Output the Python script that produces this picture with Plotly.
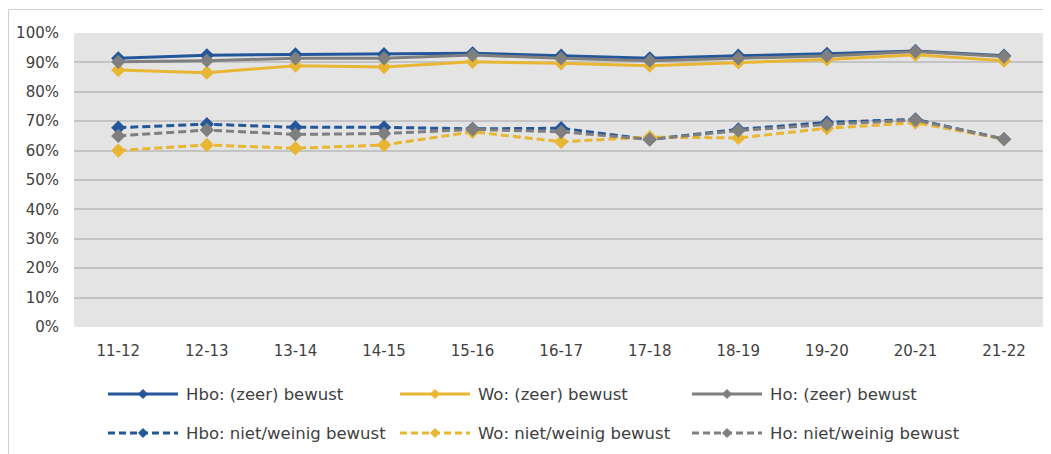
import plotly.graph_objects as go

categories = ["11-12", "12-13", "13-14", "14-15", "15-16", "16-17", "17-18", "18-19", "19-20", "20-21", "21-22"]

hbo_zeer = [91.4, 92.4, 92.7, 92.8, 93.1, 92.3, 91.4, 92.3, 92.9, 93.9, 92.3]
wo_zeer = [87.4, 86.5, 88.9, 88.4, 90.2, 89.7, 88.9, 90.0, 91.0, 92.6, 90.6]
ho_zeer = [90.2, 90.6, 91.4, 91.4, 92.5, 91.4, 90.6, 91.4, 92.2, 93.7, 92.0]
hbo_niet = [67.8, 69.0, 67.9, 67.9, 67.4, 67.6, 63.8, 67.2, 69.6, 70.6, 63.9]
wo_niet = [60.0, 61.9, 60.8, 61.9, 66.4, 63.0, 64.6, 64.3, 67.6, 69.5, 63.9]
ho_niet = [65.0, 67.0, 65.5, 65.8, 67.2, 66.4, 63.8, 66.8, 68.9, 70.4, 63.9]

names = ["Hbo: (zeer) bewust", "Wo: (zeer) bewust", "Ho: (zeer) bewust",
         "Hbo: niet/weinig bewust", "Wo: niet/weinig bewust", "Ho: niet/weinig bewust"]

BLUE = "#24569A"
GOLD = "#E9B634"
GRAY = "#7F7F7F"
DASH = "8px,4px"

series = [
    (hbo_zeer, names[0], BLUE, "solid"),
    (wo_zeer, names[1], GOLD, "solid"),
    (ho_zeer, names[2], GRAY, "solid"),
    (hbo_niet, names[3], BLUE, DASH),
    (wo_niet, names[4], GOLD, DASH),
    (ho_niet, names[5], GRAY, DASH),
]

fig = go.Figure()
for vals, name, color, dash in series:
    fig.add_trace(go.Scatter(
        x=categories, y=[v / 100 for v in vals], name=name, mode="lines+markers",
        line=dict(color=color, width=3, dash=dash),
        marker=dict(symbol="diamond", size=11, color=color),
        showlegend=False,
    ))

# page is rendered with an 8px body margin
OFF = 8
W, H = 1051 - OFF, 454 - OFF
L, T = 74 - OFF, 33 - OFF
PB = 327 - OFF
PW, PH = W - L, PB - T


def px_x(px):
    return (px - OFF - L) / PW


def px_y(py):
    return (PB - (py - OFF)) / PH


tickfont = dict(family="DejaVu Sans", size=15, color="#404040")
legfont = dict(size=16.5, color="#404040", family="DejaVu Sans")

fig.update_layout(
    width=W, height=H,
    margin=dict(l=L, r=0, t=T, b=H - PB),
    paper_bgcolor="white",
    plot_bgcolor="#E4E4E4",
    font=tickfont,
    showlegend=False,
    xaxis=dict(type="category", range=[-0.5, 10.53], showgrid=False, zeroline=False, showline=False,
               ticks="", tickfont=tickfont, ticklabelstandoff=13,
               automargin=False),
    yaxis=dict(range=[0, 1.0], dtick=0.1, tickformat=".0%", showgrid=True,
               gridcolor="#C4C4C4", gridwidth=1.5, zeroline=False, showline=False,
               ticks="", tickfont=tickfont, ticklabelstandoff=14,
               automargin=False),
)

fig.add_shape(type="rect", xref="paper", yref="paper",
              x0=px_x(8.5), x1=px_x(1070),
              y0=px_y(480), y1=px_y(9.5),
              line=dict(color="#D0D0D0", width=1), fillcolor="rgba(0,0,0,0)", layer="below")

# custom legend (two rows, three columns) to match the wide legend keys
col_x = [108, 400, 692]
row_y = [394, 433]
for i, (vals, name, color, dash) in enumerate(series):
    cx = col_x[i % 3]
    ry = row_y[i // 3]
    x0, x1 = px_x(cx), px_x(cx + 70)
    yy = px_y(ry)
    fig.add_shape(type="line", xref="paper", yref="paper", x0=x0, x1=x1, y0=yy, y1=yy,
                  line=dict(color=color, width=3, dash="7px,4px" if dash != "solid" else "solid"))
    mx = cx + 35
    dx, dy = 4.5 / PW, 4.5 / PH
    xm, ym = px_x(mx), yy
    fig.add_shape(type="path", xref="paper", yref="paper",
                  path=f"M {xm - dx} {ym} L {xm} {ym + dy} L {xm + dx} {ym} L {xm} {ym - dy} Z",
                  fillcolor=color, line=dict(color=color, width=1))
    fig.add_annotation(xref="paper", yref="paper", x=px_x(cx + 76), y=yy, text=name,
                       showarrow=False, xanchor="left", yanchor="middle", font=legfont)

fig.write_html("out.html")
